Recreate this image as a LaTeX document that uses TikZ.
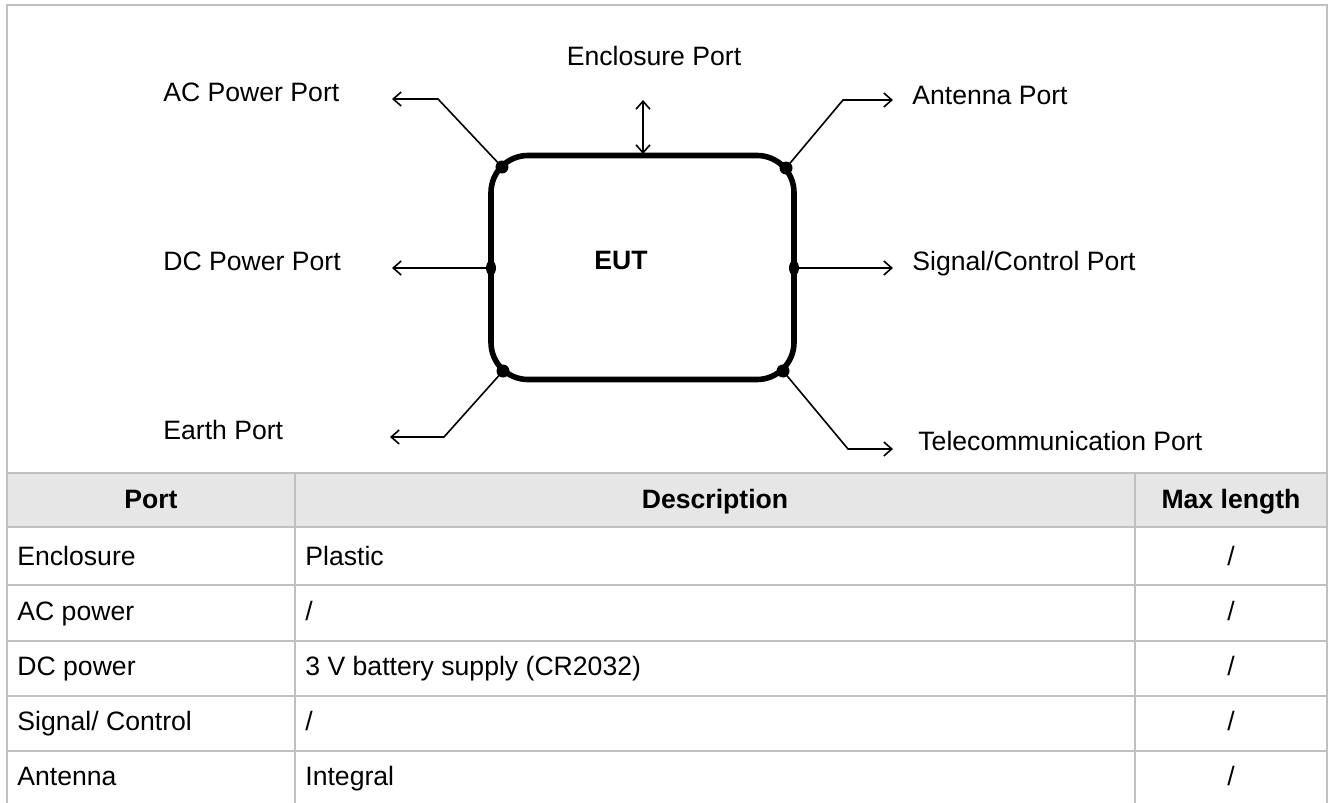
\documentclass[tikz,border=0pt]{standalone}
\usepackage{fontspec}
\setmainfont{Liberation Sans}
\usetikzlibrary{arrows.meta}
\definecolor{gridgray}{HTML}{C0C0C0}
\definecolor{headfill}{HTML}{E6E6E6}
\tikzset{
  lbl/.style={inner sep=0pt, text height=0.716em, text depth=0pt, font=\fontsize{13.3}{16}\selectfont},
  conn/.style={line width=0.8pt, -{Straight Barb[length=4pt,width=7pt]}},
  gridline/.style={draw=gridgray, line width=1.3pt},
  portdot/.style={fill=black, draw=none},
}
\begin{document}
\begin{tikzpicture}[x=0.5pt,y=-0.5pt]
\useasboundingbox (0,0) rectangle (1335,803);
% table header fill
\fill[headfill] (7,473) rectangle (1327,527);
% frame and grid
\draw[gridline] (7,803) -- (7,5) -- (1327,5) -- (1327,803);
\foreach \yy in {473,527,585,641,696,751} \draw[gridline] (7,\yy) -- (1327,\yy);
\draw[gridline] (295,473) -- (295,803);
\draw[gridline] (1135,473) -- (1135,803);

% EUT box
\node[draw, line width=2.8pt, rounded corners=18.5pt, minimum width=303*0.5pt, minimum height=224*0.5pt, inner sep=0pt] (box) at (642.5,267.5) {};
\node[lbl, font=\fontsize{13.3}{16}\selectfont\bfseries] (eut) at (621,262) {EUT};

% port points
\coordinate (dAC) at (502,167);
\coordinate (dAN) at (786,168);
\coordinate (dDC) at (491,268);
\coordinate (dSC) at (794,268);
\coordinate (dEA) at (503,371);
\coordinate (dTC) at (783,371);
\coordinate (dEN) at (643,154);
\foreach \d in {dAC,dAN,dEA,dTC} \fill[portdot] (\d) circle[radius=6.5];
\foreach \d in {dDC,dSC} \fill[portdot] (\d) ellipse[x radius=5, y radius=7.5];

% bends and tips
\coordinate (bAC) at (438,99);
\coordinate (tAC) at (392,99);
\coordinate (bAN) at (843,100);
\coordinate (tAN) at (893,100);
\coordinate (tDC) at (392,268);
\coordinate (tSC) at (893,268);
\coordinate (bEA) at (444,437);
\coordinate (tEA) at (390,437);
\coordinate (bTC) at (848,449);
\coordinate (tTC) at (893,449);
\coordinate (tEN) at (643,100);

\draw[conn] (dAC) -- (bAC) -- (tAC);
\draw[conn] (dAN) -- (bAN) -- (tAN);
\draw[conn] (dDC) -- (tDC);
\draw[conn] (dSC) -- (tSC);
\draw[conn] (dEA) -- (bEA) -- (tEA);
\draw[conn] (dTC) -- (bTC) -- (tTC);
\draw[conn, {Straight Barb[length=4pt,width=7pt]}-{Straight Barb[length=4pt,width=7pt]}] (dEN) -- (tEN);

% port labels
\node[lbl, anchor=west] (lAC) at (163,94) {AC Power Port};
\node[lbl, anchor=west] (lDC) at (163,263) {DC Power Port};
\node[lbl, anchor=west] (lEA) at (163,432) {Earth Port};
\node[lbl] (lEN) at (654,58) {Enclosure Port};
\node[lbl, anchor=west] (lAN) at (912,97) {Antenna Port};
\node[lbl, anchor=west] (lSC) at (912,263) {Signal/Control Port};
\node[lbl, anchor=west] (lTC) at (918,443) {Telecommunication Port};

% table header
\node[lbl, font=\fontsize{13.3}{16}\selectfont\bfseries] (h1) at (151,501) {Port};
\node[lbl, font=\fontsize{13.3}{16}\selectfont\bfseries] (h2) at (715,501) {Description};
\node[lbl, font=\fontsize{13.3}{16}\selectfont\bfseries] (h3) at (1231,501) {Max length};

% rows
\node[lbl, anchor=west] (r1a) at (17,558) {Enclosure};
\node[lbl, anchor=west] (r1b) at (305,558) {Plastic};
\node[lbl] (r1c) at (1231,558) {/};
\node[lbl, anchor=west] (r2a) at (17,613.5) {AC power};
\node[lbl, anchor=west] (r2b) at (305,613.5) {/};
\node[lbl] (r2c) at (1231,613.5) {/};
\node[lbl, anchor=west] (r3a) at (17,668.5) {DC power};
\node[lbl, anchor=west] (r3b) at (305,668.5) {3 V battery supply (CR2032)};
\node[lbl] (r3c) at (1231,668.5) {/};
\node[lbl, anchor=west] (r4a) at (17,723.5) {Signal/ Control};
\node[lbl, anchor=west] (r4b) at (305,723.5) {/};
\node[lbl] (r4c) at (1231,723.5) {/};
\node[lbl, anchor=west] (r5a) at (17,778) {Antenna};
\node[lbl, anchor=west] (r5b) at (305,778) {Integral};
\node[lbl] (r5c) at (1231,778) {/};
\end{tikzpicture}
\end{document}
